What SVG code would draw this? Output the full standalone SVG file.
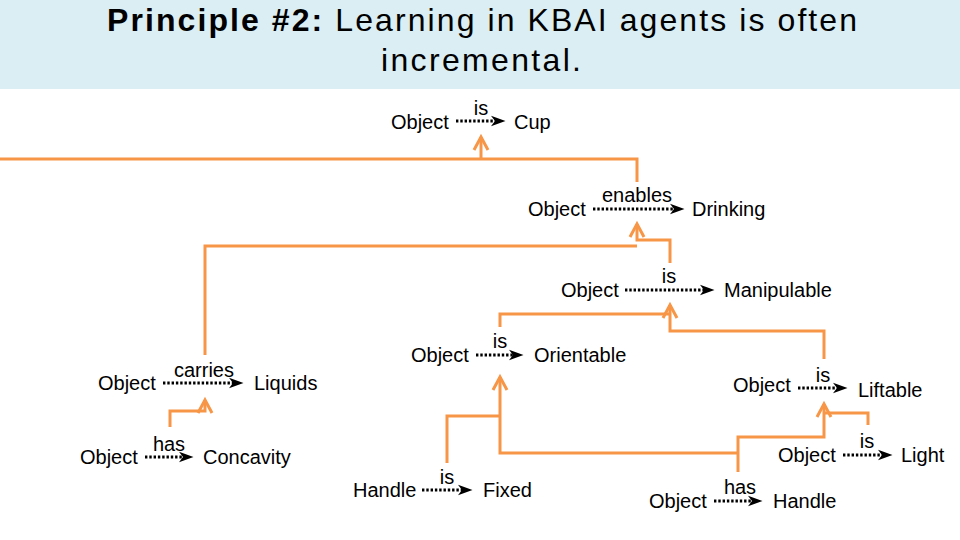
<svg xmlns="http://www.w3.org/2000/svg" width="960" height="540" viewBox="0 0 960 540">
<style>
.t{font-family:"Liberation Sans",Arial,sans-serif;font-size:20px;fill:#000}
.lb{text-anchor:middle}
.rel{stroke:#000;stroke-width:3;stroke-dasharray:2.4 1.9;fill:none;marker-end:url(#ah)}
.or{stroke:#F79646;stroke-width:3;fill:none;stroke-linejoin:miter}
.oa{marker-end:url(#oh)}
.title{font-family:"Liberation Sans",Arial,sans-serif;font-size:32px;fill:#000;text-anchor:middle}
</style>
<defs>
<marker id="ah" markerUnits="userSpaceOnUse" viewBox="0 0 15 12" markerWidth="15" markerHeight="12" refX="5" refY="6" orient="auto">
<path d="M0,0.8 L14.5,6 L0,11.2 L4,6 Z" fill="#000"/>
</marker>
<marker id="oh" markerUnits="userSpaceOnUse" viewBox="-16 -10 18 20" markerWidth="18" markerHeight="20" refX="0" refY="0" orient="auto" style="overflow:visible">
<path d="M-13,-7 L0,0 L-13,7" fill="none" stroke="#F79646" stroke-width="3"/>
</marker>
</defs>
<rect x="0" y="0" width="960" height="89" fill="#DAEEF3"/>
<g id="title">
<text class="title" x="482" y="31" textLength="750" lengthAdjust="spacing"><tspan font-weight="bold">Principle #2:</tspan> Learning in KBAI agents is often</text>
<text class="title" x="481" y="71" textLength="200" lengthAdjust="spacing">incremental.</text>
</g>
<g id="connectors">
<path class="or" d="M0,159 H637 V182"/>
<path class="or oa" d="M481,159 V137"/>
<path class="or" d="M205,355 V246 H637"/>
<path class="or oa" d="M670,263 V240 H637 V224"/>
<path class="or" d="M500,327 V314 H670"/>
<path class="or oa" d="M824,359 V331 H670 V305"/>
<path class="or" d="M447,463 V416 H500"/>
<path class="or oa" d="M738,453 H500 V377"/>
<path class="or oa" d="M738,472 V437 H824 V404"/>
<path class="or" d="M868,425 V413 H824"/>
<path class="or oa" d="M170,427 V411 H205 V400"/>
</g>
<g id="t-cup">
<text class="t" x="391" y="129">Object</text>
<path class="rel" d="M456,121 H496"/>
<text class="t lb" x="481" y="115">is</text>
<text class="t" x="514" y="129">Cup</text>
</g>
<g id="t-drinking">
<text class="t" x="528" y="216">Object</text>
<path class="rel" d="M593,209 H675"/>
<text class="t lb" x="637" y="202">enables</text>
<text class="t" x="692" y="216">Drinking</text>
</g>
<g id="t-manipulable">
<text class="t" x="561" y="297">Object</text>
<path class="rel" d="M625,290 H705"/>
<text class="t lb" x="669" y="283">is</text>
<text class="t" x="724" y="297">Manipulable</text>
</g>
<g id="t-orientable">
<text class="t" x="411" y="362">Object</text>
<path class="rel" d="M476,355 H514"/>
<text class="t lb" x="500" y="348">is</text>
<text class="t" x="534" y="362">Orientable</text>
</g>
<g id="t-liquids">
<text class="t" x="98" y="390">Object</text>
<path class="rel" d="M163,383 H234"/>
<text class="t lb" x="204" y="377">carries</text>
<text class="t" x="254" y="390">Liquids</text>
</g>
<g id="t-concavity">
<text class="t" x="80" y="464">Object</text>
<path class="rel" d="M145,457 H184"/>
<text class="t lb" x="169" y="451">has</text>
<text class="t" x="203" y="464">Concavity</text>
</g>
<g id="t-fixed">
<text class="t" x="353" y="497">Handle</text>
<path class="rel" d="M422,490 H463"/>
<text class="t lb" x="447" y="484">is</text>
<text class="t" x="483" y="497">Fixed</text>
</g>
<g id="t-liftable">
<text class="t" x="733" y="392">Object</text>
<path class="rel" d="M798,388 H838"/>
<text class="t lb" x="823" y="382">is</text>
<text class="t" x="858" y="397">Liftable</text>
</g>
<g id="t-light">
<text class="t" x="778" y="462">Object</text>
<path class="rel" d="M843,455 H883"/>
<text class="t lb" x="867" y="448">is</text>
<text class="t" x="901" y="462">Light</text>
</g>
<g id="t-handle">
<text class="t" x="649" y="508">Object</text>
<path class="rel" d="M714,501 H753"/>
<text class="t lb" x="740" y="494">has</text>
<text class="t" x="773" y="508">Handle</text>
</g>
</svg>
